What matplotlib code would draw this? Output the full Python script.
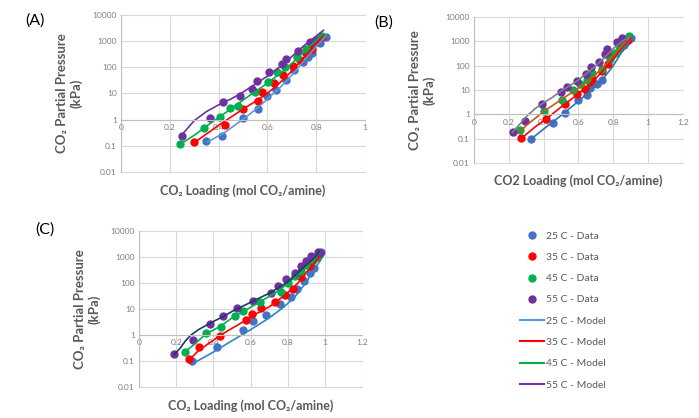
import matplotlib
matplotlib.use("Agg")
from matplotlib import pyplot as plt
from matplotlib.lines import Line2D

plt.rcParams['font.family'] = ['Lato', 'DejaVu Sans']

# ---- colours
c_blue = "#4472C4"
c_red = "#FF0000"
c_green = "#00B050"
c_purple = "#7030A0"
gray_txt = "#595959"

# ---- panel A data (loading, kPa)
a25_x = [0.35, 0.415, 0.50, 0.56, 0.60, 0.635, 0.675, 0.71, 0.745, 0.765, 0.785, 0.815, 0.84]
a25_y = [0.15, 0.24, 1.1, 2.6, 7.6, 13.5, 33, 80, 150, 240, 350, 850, 1400]
a35_x = [0.30, 0.425, 0.50, 0.56, 0.58, 0.627, 0.665, 0.705, 0.735, 0.76, 0.785, 0.80, 0.825]
a35_y = [0.135, 0.63, 2.6, 4.9, 11, 25, 48, 112, 190, 330, 480, 900, 1400]
a45_x = [0.24, 0.34, 0.405, 0.445, 0.48, 0.548, 0.603, 0.64, 0.673, 0.72, 0.76, 0.79, 0.82]
a45_y = [0.12, 0.47, 1.3, 2.7, 3.4, 10.7, 26, 63, 100, 240, 500, 900, 1500]
a55_x = [0.252, 0.366, 0.42, 0.488, 0.535, 0.558, 0.605, 0.66, 0.676, 0.724, 0.775, 0.80]
a55_y = [0.245, 1.1, 4.5, 8.0, 15, 30, 64, 125, 205, 410, 900, 1100]

am25_x = [0.355, 0.42, 0.5, 0.56, 0.6, 0.64, 0.68, 0.72, 0.76, 0.8, 0.84]
am25_y = [0.14, 0.3, 1.0, 2.8, 6, 13, 30, 80, 220, 600, 1500]
am35_x = [0.30, 0.4, 0.5, 0.56, 0.6, 0.64, 0.68, 0.72, 0.76, 0.8, 0.83]
am35_y = [0.13, 0.6, 2.5, 5.5, 10, 20, 45, 110, 300, 800, 1600]
am45_x = [0.24, 0.3, 0.36, 0.42, 0.48, 0.54, 0.6, 0.66, 0.72, 0.78, 0.83]
am45_y = [0.11, 0.25, 0.65, 1.6, 4, 10, 24, 65, 200, 700, 1900]
am55_x = [0.255, 0.3, 0.35, 0.4, 0.45, 0.5, 0.55, 0.6, 0.65, 0.7, 0.75, 0.8, 0.83]
am55_y = [0.3, 0.9, 2.0, 3.6, 6, 11, 22, 45, 100, 250, 650, 1500, 2500]

# ---- panel B data
b25_x = [0.33, 0.455, 0.525, 0.60, 0.65, 0.665, 0.706, 0.737, 0.86, 0.88, 0.90]
b25_y = [0.10, 0.45, 1.15, 3.9, 6.3, 12, 17, 26, 700, 1000, 1400]
b35_x = [0.27, 0.415, 0.52, 0.59, 0.638, 0.667, 0.676, 0.733, 0.77, 0.79, 0.838, 0.867, 0.886]
b35_y = [0.11, 0.66, 2.7, 6.6, 11.5, 21, 29, 60, 115, 270, 550, 900, 1150]
b45_x = [0.263, 0.40, 0.505, 0.571, 0.61, 0.648, 0.676, 0.733, 0.78, 0.81, 0.838, 0.86, 0.891]
b45_y = [0.23, 1.4, 4.0, 10, 17, 25, 51, 75, 180, 345, 550, 900, 1600]
b55_x = [0.223, 0.295, 0.39, 0.499, 0.533, 0.59, 0.642, 0.674, 0.718, 0.754, 0.766, 0.821, 0.85]
b55_y = [0.19, 0.55, 2.7, 8.1, 13, 24, 47, 88, 140, 290, 490, 930, 1400]

bm25_x = [0.33, 0.4, 0.5, 0.6, 0.65, 0.7, 0.75, 0.8, 0.85, 0.9, 0.91]
bm25_y = [0.1, 0.25, 0.9, 3.5, 7, 15, 35, 100, 380, 1200, 1500]
bm35_x = [0.27, 0.35, 0.42, 0.5, 0.58, 0.64, 0.7, 0.76, 0.8, 0.85, 0.9]
bm35_y = [0.1, 0.3, 0.7, 2.0, 5.5, 12, 30, 90, 200, 550, 1400]
bm45_x = [0.26, 0.3, 0.4, 0.5, 0.6, 0.65, 0.7, 0.75, 0.8, 0.85, 0.9]
bm45_y = [0.18, 0.35, 1.3, 4, 12, 22, 45, 100, 250, 650, 1600]
bm55_x = [0.22, 0.27, 0.3, 0.35, 0.4, 0.45, 0.5, 0.55, 0.6, 0.65, 0.7, 0.75, 0.8, 0.85, 0.89]
bm55_y = [0.18, 0.45, 0.8, 1.7, 3, 5, 9, 15, 26, 50, 100, 220, 500, 1000, 1500]

# ---- panel C data
c25_x = [0.283, 0.418, 0.559, 0.611, 0.683, 0.757, 0.82, 0.85, 0.89, 0.922, 0.94, 0.977]
c25_y = [0.10, 0.34, 1.6, 3.4, 6.0, 16, 29, 60, 115, 240, 380, 1500]
c35_x = [0.269, 0.323, 0.434, 0.574, 0.606, 0.655, 0.73, 0.784, 0.829, 0.87, 0.92, 0.96]
c35_y = [0.124, 0.35, 0.92, 3.8, 6.2, 10.5, 18.5, 36, 60, 170, 450, 1000]
c45_x = [0.246, 0.362, 0.443, 0.515, 0.56, 0.65, 0.766, 0.80, 0.838, 0.874, 0.90, 0.937, 0.969]
c45_y = [0.23, 1.16, 2.1, 5.4, 8.3, 19, 45, 100, 180, 280, 480, 750, 1230]
c55_x = [0.188, 0.29, 0.38, 0.452, 0.527, 0.613, 0.712, 0.748, 0.793, 0.838, 0.874, 0.90, 0.927, 0.963, 0.975]
c55_y = [0.18, 0.64, 2.6, 5.3, 10.5, 21, 40, 80, 148, 245, 440, 680, 1070, 1500, 1400]

cm25_x = [0.29, 0.4, 0.5, 0.6, 0.7, 0.78, 0.84, 0.88, 0.92, 0.95, 0.98]
cm25_y = [0.08, 0.22, 0.6, 1.6, 4.5, 12, 30, 70, 180, 400, 800]
cm35_x = [0.27, 0.32, 0.38, 0.44, 0.5, 0.57, 0.63, 0.7, 0.76, 0.82, 0.86, 0.9, 0.94, 0.97]
cm35_y = [0.11, 0.25, 0.5, 1.0, 1.8, 3.5, 6.5, 12, 25, 55, 110, 250, 550, 1000]
cm45_x = [0.245, 0.3, 0.36, 0.44, 0.5, 0.56, 0.62, 0.68, 0.74, 0.8, 0.86, 0.92, 0.97]
cm45_y = [0.22, 0.45, 1.1, 2.2, 4.5, 8, 14, 25, 45, 95, 230, 600, 1400]
cm55_x = [0.19, 0.22, 0.25, 0.28, 0.32, 0.38, 0.45, 0.5, 0.55, 0.6, 0.65, 0.7, 0.75, 0.8, 0.85, 0.9, 0.95, 0.97]
cm55_y = [0.18, 0.3, 0.6, 1.0, 1.6, 2.8, 5, 8, 12, 18, 27, 40, 65, 110, 230, 500, 1000, 1600]

yticks = [0.01, 0.1, 1, 10, 100, 1000, 10000]
ylabels = ["0.01", "0.1", "1", "10", "100", "1000", "10000"]
legend_labels = ["25 C - Data", "35 C - Data", "45 C - Data", "55 C - Data",
                 "25 C - Model", "35 C - Model", "45 C - Model", "55 C - Model"]

fig = plt.figure(figsize=(6.99, 4.18), dpi=100)


def setup(ax, xmax, xticks, xlabels, xlabel):
    ax.set_yscale("log")
    ax.set_xlim(0, xmax)
    ax.set_ylim(0.01, 10000)
    ax.set_yticks(yticks)
    ax.set_yticklabels(ylabels)
    ax.minorticks_off()
    ax.set_xticks(xticks)
    ax.set_xticklabels(xlabels)
    ax.grid(True, color="#d9d9d9", lw=0.8)
    for gl in ax.get_xgridlines() + ax.get_ygridlines():
        gl.set_clip_on(False)
    ax.set_axisbelow(True)
    for s in ["top", "right"]:
        ax.spines[s].set_visible(False)
    ax.spines["left"].set_color("#bfbfbf")
    ax.spines["bottom"].set_position(("data", 1))
    ax.spines["bottom"].set_color("#bfbfbf")
    ax.tick_params(length=0, labelsize=6, labelcolor="#7f7f7f", pad=3)
    ax.set_ylabel("CO₂ Partial Pressure\n(kPa)", fontsize=9.5, fontweight="bold",
                  color=gray_txt, labelpad=7)
    ax.text(0.5, -0.08, xlabel, transform=ax.transAxes, ha="center", va="top",
            fontsize=9, fontweight="bold", color=gray_txt)


def draw(ax, data, models, mcols):
    cols = [c_blue, c_red, c_green, c_purple]
    for (x, y), c in zip(data, cols):
        ax.plot(x, y, "o", color=c, ms=5, ls="none", clip_on=False)
    for (x, y), c in zip(models, mcols):
        ax.plot(x, y, "-", color=c, lw=1.2, clip_on=False)


axA = fig.add_axes([0.1731, 0.5885, 0.349, 0.3768])
setup(axA, 1.0, [0, 0.2, 0.4, 0.6, 0.8, 1.0], ["0", "0.2", "0.4", "0.6", "0.8", "1"],
      "CO₂ Loading (mol CO₂/amine)")
draw(axA, [(a25_x, a25_y), (a35_x, a35_y), (a45_x, a45_y), (a55_x, a55_y)],
     [(am25_x, am25_y), (am35_x, am35_y), (am45_x, am45_y), (am55_x, am55_y)],
     ["#5B9BD5", c_red, c_green, c_purple])

axB = fig.add_axes([0.6781, 0.6100, 0.299, 0.3493])
setup(axB, 1.2, [0, 0.2, 0.4, 0.6, 0.8, 1.0, 1.2], ["0", "0.2", "0.4", "0.6", "0.8", "1", "1.2"],
      "CO2 Loading (mol CO₂/amine)")
draw(axB, [(b25_x, b25_y), (b35_x, b35_y), (b45_x, b45_y), (b55_x, b55_y)],
     [(bm25_x, bm25_y), (bm35_x, bm35_y), (bm45_x, bm45_y), (bm55_x, bm55_y)],
     ["#2E75B6", c_red, "#C55A11", "#7F7F7F"])

axC = fig.add_axes([0.1989, 0.0742, 0.319, 0.3732])
setup(axC, 1.2, [0, 0.2, 0.4, 0.6, 0.8, 1.0, 1.2], ["0", "0.2", "0.4", "0.6", "0.8", "1", "1.2"],
      "CO₂ Loading (mol CO₂/amine)")
draw(axC, [(c25_x, c25_y), (c35_x, c35_y), (c45_x, c45_y), (c55_x, c55_y)],
     [(cm25_x, cm25_y), (cm35_x, cm35_y), (cm45_x, cm45_y), (cm55_x, cm55_y)],
     ["#2E86C1", c_red, c_green, "#1F3864"])

fig.text(0.036, 0.952, "(A)", fontsize=11.5, va="center")
fig.text(0.535, 0.945, "(B)", fontsize=11.5, va="center")
fig.text(0.050, 0.452, "(C)", fontsize=11.5, va="center")

handles = []
for c in [c_blue, c_red, c_green, c_purple]:
    handles.append(Line2D([], [], marker="o", color=c, ls="none", ms=5))
for c in ["#5B9BD5", c_red, c_green, c_purple]:
    handles.append(Line2D([], [], color=c, lw=1.5))
fig.legend(handles, legend_labels, loc="upper left", bbox_to_anchor=(0.737, 0.459),
           frameon=False, fontsize=7.5, labelcolor=gray_txt, handlelength=2.3,
           handletextpad=0.15, labelspacing=1.15, borderpad=0)

fig.savefig("out.png", dpi=100)
